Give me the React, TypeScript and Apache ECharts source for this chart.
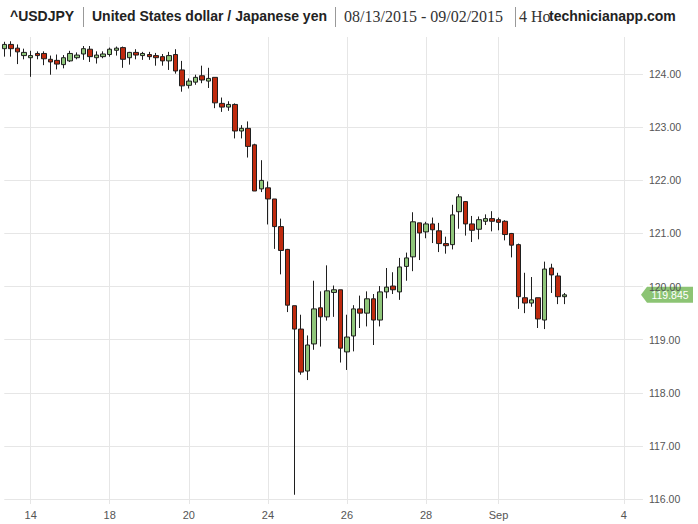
import React, { useEffect, useRef } from "react";
import * as echarts from "echarts";

// 4-hour candles, USD/JPY, 08/13/2015 - 09/02/2015
const opens = [
  124.48, 124.56, 124.49, 124.35, 124.31, 124.39, 124.39, 124.28, 124.26, 124.18,
  124.25, 124.31, 124.38, 124.47, 124.31, 124.33, 124.37, 124.45, 124.50, 124.31,
  124.41, 124.35, 124.37, 124.35, 124.33, 124.25, 124.37, 124.08, 123.79, 123.85,
  123.97, 123.87, 123.94, 123.45, 123.38, 123.43, 122.93, 122.98, 122.67, 121.84,
  121.86, 121.65, 121.13, 120.70, 119.64, 119.20, 118.41, 118.92, 119.60, 119.43,
  119.89, 119.94, 118.77, 119.07, 119.58, 119.50, 119.77, 119.37, 119.90, 120.01,
  119.90, 120.38, 120.56, 121.20, 121.03, 121.18, 121.05, 120.81, 120.79, 121.41,
  121.60, 121.18, 121.08, 121.23, 121.28, 121.26, 121.23, 121.00, 120.79, 119.79,
  119.69, 119.79, 119.37, 120.35, 120.20, 119.81,
];
const closes = [
  124.56, 124.48, 124.42, 124.41, 124.35, 124.35, 124.29, 124.23, 124.19, 124.31,
  124.39, 124.36, 124.48, 124.33, 124.36, 124.38, 124.47, 124.49, 124.28, 124.41,
  124.36, 124.39, 124.33, 124.31, 124.25, 124.35, 124.06, 123.78, 123.87, 123.94,
  123.89, 123.92, 123.46, 123.38, 123.43, 122.93, 122.98, 122.64, 121.80, 122.00,
  121.65, 121.13, 120.68, 119.65, 119.20, 118.39, 118.90, 119.58, 119.43, 119.92,
  119.94, 118.84, 119.05, 119.58, 119.50, 119.77, 119.37, 119.90, 119.99, 119.94,
  120.37, 120.54, 121.22, 121.01, 121.18, 121.07, 120.81, 120.77, 121.35, 121.69,
  121.18, 121.06, 121.26, 121.28, 121.23, 121.21, 120.98, 120.78, 119.81, 119.69,
  119.75, 119.39, 120.33, 120.22, 119.81, 119.845,
];
const lows = [
  124.33, 124.33, 124.19, 124.28, 123.95, 124.28, 124.17, 123.99, 124.09, 124.11,
  124.23, 124.28, 124.27, 124.23, 124.20, 124.30, 124.33, 124.35, 124.12, 124.18,
  124.28, 124.27, 124.27, 124.16, 124.16, 124.08, 124.01, 123.67, 123.73, 123.80,
  123.83, 123.74, 123.36, 123.29, 123.31, 122.79, 122.79, 122.43, 121.80, 121.78,
  121.17, 120.71, 120.23, 119.52, 116.08, 118.34, 118.24, 118.81, 118.87, 119.36,
  119.43, 118.57, 118.43, 118.78, 119.22, 119.25, 118.90, 119.25, 119.78, 119.86,
  119.75, 120.11, 120.29, 120.50, 120.91, 120.82, 120.65, 120.62, 120.70, 121.09,
  120.96, 120.84, 120.89, 121.16, 121.04, 121.06, 120.87, 120.55, 119.58, 119.50,
  119.62, 119.22, 119.20, 119.88, 119.67, 119.67,
];
const highs = [
  124.61, 124.62, 124.56, 124.48, 124.44, 124.43, 124.43, 124.35, 124.37, 124.36,
  124.44, 124.41, 124.53, 124.53, 124.43, 124.43, 124.50, 124.52, 124.52, 124.42,
  124.47, 124.42, 124.42, 124.40, 124.38, 124.42, 124.47, 124.25, 123.92, 123.99,
  124.16, 124.12, 123.94, 123.56, 123.49, 123.45, 123.04, 123.11, 122.69, 122.38,
  121.98, 121.65, 121.28, 120.71, 119.64, 119.47, 119.08, 120.11, 119.91, 120.40,
  120.02, 119.94, 119.47, 119.65, 119.83, 119.91, 119.86, 120.01, 120.35, 120.27,
  120.54, 120.64, 121.40, 121.20, 121.22, 121.30, 121.20, 120.94, 121.54, 121.74,
  121.61, 121.33, 121.32, 121.36, 121.42, 121.30, 121.25, 121.01, 120.81, 120.26,
  120.18, 119.79, 120.47, 120.43, 120.26, 119.88,
];

const slotCount = 97; // candle slots on the time axis (data + empty future slots)
const tickIndices = [4, 16, 28, 40, 52, 64, 75, 94];
const tickLabels = ["14", "18", "20", "24", "26", "28", "Sep", "4"];
const yMin = 116;
const yMax = 124.7;
const yInterval = 1;
const lastPrice = 119.845;

const GRID_COLOR = "#e6e6e6";
const LABEL_COLOR = "#555555";
const SANS = "Liberation Sans, Arial, sans-serif";
const SERIF = "Liberation Serif, DejaVu Serif, serif";

export default function App() {
  const ref = useRef<HTMLDivElement>(null);

  useEffect(() => {
    document.body.style.margin = "0";
    const el = ref.current!;
    const chart = echarts.init(el, null, { renderer: "svg" });

    const categories = Array.from({ length: slotCount }, (_, i) => String(i));
    const labelMap = new Map<number, string>();
    tickIndices.forEach((t, i) => labelMap.set(t, tickLabels[i]));
    const isTick = (idx: number) => labelMap.has(idx);
    const data = opens.map((o, i) => [o, closes[i], lows[i], highs[i]]);

    const left = 4.3;
    const step = 6.59;
    const rightEdge = left + (slotCount - 1) * step;

    chart.setOption({
      animation: false,
      backgroundColor: "#ffffff",
      grid: { left, right: 698 - rightEdge, top: 37, bottom: 25, containLabel: false },
      xAxis: {
        type: "category",
        data: categories,
        boundaryGap: false,
        axisLine: { show: false },
        axisTick: {
          show: true,
          interval: (idx: number) => isTick(idx),
          length: 5,
          lineStyle: { color: GRID_COLOR },
        },
        axisLabel: {
          interval: (idx: number) => isTick(idx),
          formatter: (_v: string, idx: number) => labelMap.get(idx) ?? "",
          color: LABEL_COLOR,
          fontSize: 11,
          fontFamily: SANS,
          margin: 10,
        },
        splitLine: {
          show: true,
          interval: (idx: number) => isTick(idx),
          lineStyle: { color: GRID_COLOR, width: 1 },
        },
      },
      yAxis: {
        type: "value",
        position: "right",
        min: yMin,
        max: yMax,
        interval: yInterval,
        scale: true,
        axisLine: { show: false },
        axisTick: { show: true, length: 6, lineStyle: { color: GRID_COLOR } },
        axisLabel: {
          formatter: (v: number) => (Math.abs(v - Math.round(v)) < 1e-9 ? v.toFixed(2) : ""),
          showMaxLabel: false,
          color: LABEL_COLOR,
          fontSize: 10.5,
          fontFamily: SANS,
          margin: 12,
        },
        splitLine: {
          show: true,
          showMaxLine: false,
          lineStyle: { color: GRID_COLOR, width: 1 },
        },
      },
      series: [
        {
          type: "candlestick",
          data,
          barWidth: 5,
          clip: false,
          itemStyle: {
            color: "#8fc67a",
            color0: "#bf2a0e",
            borderColor: "#1f1f1f",
            borderColor0: "#1f1f1f",
            borderWidth: 1,
          },
        },
      ],
    });

    const ty = chart.convertToPixel({ yAxisIndex: 0 }, lastPrice) as number;
    const tagLeft = 641;
    const tagRight = 693;
    const h = 8;

    chart.setOption({
      graphic: [
        { type: "text", left: 10, top: 9, style: { text: "^USDJPY", font: `bold 14px ${SANS}`, fill: "#222" } },
        { type: "line", shape: { x1: 83.5, y1: 7, x2: 83.5, y2: 27 }, style: { stroke: "#999", lineWidth: 1 } },
        {
          type: "text", left: 92, top: 9,
          style: { text: "United States dollar / Japanese yen", font: `bold 14px ${SANS}`, fill: "#222" },
        },
        { type: "line", shape: { x1: 335.5, y1: 7, x2: 335.5, y2: 27 }, style: { stroke: "#999", lineWidth: 1 } },
        {
          type: "text", left: 344, top: 8,
          style: { text: "08/13/2015 - 09/02/2015", font: `16px ${SERIF}`, fill: "#333" },
        },
        { type: "line", shape: { x1: 515.5, y1: 7, x2: 515.5, y2: 27 }, style: { stroke: "#999", lineWidth: 1 } },
        {
          type: "text", left: 519, top: 8,
          style: { text: "4 Ho", font: `16px ${SERIF}`, fill: "#333" },
        },
        {
          type: "text", left: 549, top: 9,
          style: { text: "technicianapp.com", font: `bold 14px ${SANS}`, fill: "#222" },
        },
        {
          type: "polygon",
          shape: {
            points: [
              [tagLeft, ty],
              [tagLeft + 6, ty - h],
              [tagRight, ty - h],
              [tagRight, ty + h],
              [tagLeft + 6, ty + h],
            ],
          },
          style: { fill: "#8cc474" },
        },
        {
          type: "text", x: (tagLeft + 6 + tagRight) / 2, y: ty,
          style: {
            text: "119.845", font: `10.5px ${SANS}`, fill: "#ffffff",
            textAlign: "center", textVerticalAlign: "middle",
          },
        },
      ],
    });

    return () => chart.dispose();
  }, []);

  return (
    <div
      ref={ref}
      style={{ position: "absolute", left: 0, top: 0, width: 698, height: 524 }}
    />
  );
}
